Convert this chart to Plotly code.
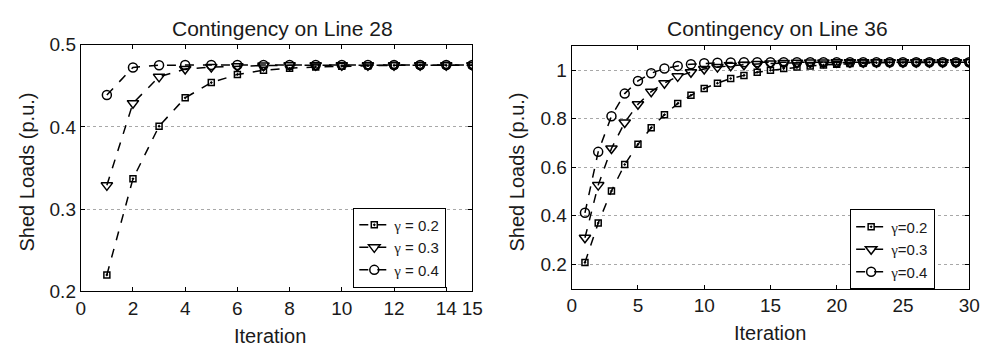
import plotly.graph_objects as go

# ---------------- data ----------------
iter_l28 = list(range(1, 16))
l28_g02 = [0.220, 0.337, 0.401, 0.4355, 0.454, 0.464, 0.469, 0.4715, 0.473, 0.474, 0.4745, 0.475, 0.475, 0.475, 0.475]
l28_g03 = [0.329, 0.429, 0.461, 0.4705, 0.473, 0.474, 0.4748, 0.475, 0.475, 0.475, 0.475, 0.475, 0.475, 0.475, 0.475]
l28_g04 = [0.439, 0.4725, 0.4752, 0.4755, 0.4755, 0.4755, 0.4755, 0.4755, 0.4755, 0.4755, 0.4755, 0.4755, 0.4755, 0.4755, 0.4755]

iter_l36 = list(range(1, 31))
l36_g02 = [0.207, 0.370, 0.502, 0.611, 0.694, 0.762, 0.816, 0.862, 0.896, 0.924,
           0.946, 0.965, 0.978, 0.991, 0.999, 1.006, 1.012, 1.017, 1.021, 1.024,
           1.027, 1.029, 1.030, 1.031, 1.031, 1.032, 1.032, 1.032, 1.032, 1.032]
l36_g03 = [0.309, 0.526, 0.677, 0.784, 0.859, 0.911, 0.946, 0.974, 0.991, 1.004,
           1.012, 1.018, 1.022, 1.025, 1.027, 1.029, 1.030, 1.031, 1.031, 1.032,
           1.032, 1.032, 1.032, 1.032, 1.032, 1.032, 1.032, 1.032, 1.032, 1.032]
l36_g04 = [0.412, 0.663, 0.810, 0.903, 0.955, 0.987, 1.006, 1.017, 1.024, 1.028,
           1.030, 1.031, 1.032, 1.032, 1.032, 1.032, 1.032, 1.032, 1.032, 1.032,
           1.032, 1.032, 1.032, 1.032, 1.032, 1.032, 1.032, 1.032, 1.032, 1.032]

GAMMA = "<span style='font-family:Liberation Serif, serif'>γ</span>"
names_l28 = [GAMMA + " = 0.2", GAMMA + " = 0.3", GAMMA + " = 0.4"]
names_l36 = [GAMMA + "=0.2", GAMMA + "=0.3", GAMMA + "=0.4"]
symbols = ["square-open-dot", "triangle-down-open", "circle-open"]
sizes = [6, 10, 9]

xticks_l28 = [0, 2, 4, 6, 8, 10, 12, 14, 15]
yticks_l28 = [0.2, 0.3, 0.4, 0.5]
xticks_l36 = [0, 5, 10, 15, 20, 25, 30]
yticks_l36 = [0.2, 0.4, 0.6, 0.8, 1]

FONT = "Liberation Sans, Arial, sans-serif"
TXT = "#1a1a1a"

fig = go.Figure()

for ys, nm, sym, sz in zip([l28_g02, l28_g03, l28_g04], names_l28, symbols, sizes):
    fig.add_trace(go.Scatter(
        x=iter_l28, y=ys, name=nm, mode="lines+markers",
        line=dict(color="black", width=1.5, dash="dash"),
        marker=dict(symbol=sym, size=sz, color="black", line=dict(width=1.5, color="black")),
        xaxis="x", yaxis="y", legend="legend"))

for ys, nm, sym, sz in zip([l36_g02, l36_g03, l36_g04], names_l36, symbols, sizes):
    fig.add_trace(go.Scatter(
        x=iter_l36, y=ys, name=nm, mode="lines+markers",
        line=dict(color="black", width=1.5, dash="dash"),
        marker=dict(symbol=sym, size=sz, color="black", line=dict(width=1.5, color="black")),
        xaxis="x2", yaxis="y2", legend="legend2"))

W, H = 992, 356

def px_x(p):
    return p / W

def px_y(p):
    return 1 - p / H

axis_common = dict(
    showline=True, linecolor="black", linewidth=1, mirror="ticks",
    ticks="inside", ticklen=4, tickcolor="black",
    tickfont=dict(family=FONT, size=19, color=TXT),
    zeroline=False,
)

fig.update_layout(
    width=W, height=H,
    margin=dict(l=0, r=0, t=0, b=0),
    paper_bgcolor="white", plot_bgcolor="white",
    font=dict(family=FONT, color=TXT),
    xaxis=dict(domain=[px_x(77), px_x(475)], range=[0, 15], tickvals=xticks_l28,
               showgrid=False, anchor="y", **axis_common),
    yaxis=dict(domain=[px_y(299), px_y(37)], range=[0.2, 0.5], tickvals=yticks_l28,
               tickformat=".1f",
               showgrid=True, gridcolor="#a8a8a8", griddash="dot", gridwidth=1,
               anchor="x", **axis_common),
    xaxis2=dict(domain=[px_x(576), px_x(980)], range=[0, 30], tickvals=xticks_l36,
                showgrid=False, anchor="y2", **axis_common),
    yaxis2=dict(domain=[px_y(296), px_y(38)], range=[0.1, 1.1], tickvals=yticks_l36,
                ticktext=["0.2", "0.4", "0.6", "0.8", "1"],
                showgrid=True, gridcolor="#a8a8a8", griddash="dot", gridwidth=1,
                anchor="x2", **axis_common),
    legend=dict(x=px_x(354), y=px_y(210), xanchor="left", yanchor="top",
                bgcolor="white", bordercolor="black", borderwidth=1,
                font=dict(family=FONT, size=15, color=TXT),
                itemwidth=30, tracegroupgap=0),
    legend2=dict(x=px_x(859), y=px_y(212), xanchor="left", yanchor="top",
                 bgcolor="white", bordercolor="black", borderwidth=1,
                 font=dict(family=FONT, size=15, color=TXT),
                 itemwidth=30, tracegroupgap=0),
    showlegend=True,
)

ann = []
ann.append(dict(text="Contingency on Line 28", x=px_x(282), y=px_y(20), xref="paper", yref="paper",
                showarrow=False, xanchor="center", yanchor="middle",
                font=dict(family=FONT, size=21, color=TXT)))
ann.append(dict(text="Contingency on Line 36", x=px_x(785), y=px_y(20), xref="paper", yref="paper",
                showarrow=False, xanchor="center", yanchor="middle",
                font=dict(family=FONT, size=21, color=TXT)))
ann.append(dict(text="Iteration", x=px_x(269), y=px_y(346), xref="paper", yref="paper",
                showarrow=False, xanchor="center", yanchor="middle",
                font=dict(family=FONT, size=20, color=TXT)))
ann.append(dict(text="Iteration", x=px_x(778), y=px_y(343), xref="paper", yref="paper",
                showarrow=False, xanchor="center", yanchor="middle",
                font=dict(family=FONT, size=20, color=TXT)))
ann.append(dict(text="Shed Loads (p.u.)", x=px_x(22), y=px_y(172), xref="paper", yref="paper",
                showarrow=False, xanchor="center", yanchor="middle", textangle=-90,
                font=dict(family=FONT, size=20, color=TXT)))
ann.append(dict(text="Shed Loads (p.u.)", x=px_x(520), y=px_y(172), xref="paper", yref="paper",
                showarrow=False, xanchor="center", yanchor="middle", textangle=-90,
                font=dict(family=FONT, size=20, color=TXT)))
fig.update_layout(annotations=ann)

fig.write_html("out.html")
